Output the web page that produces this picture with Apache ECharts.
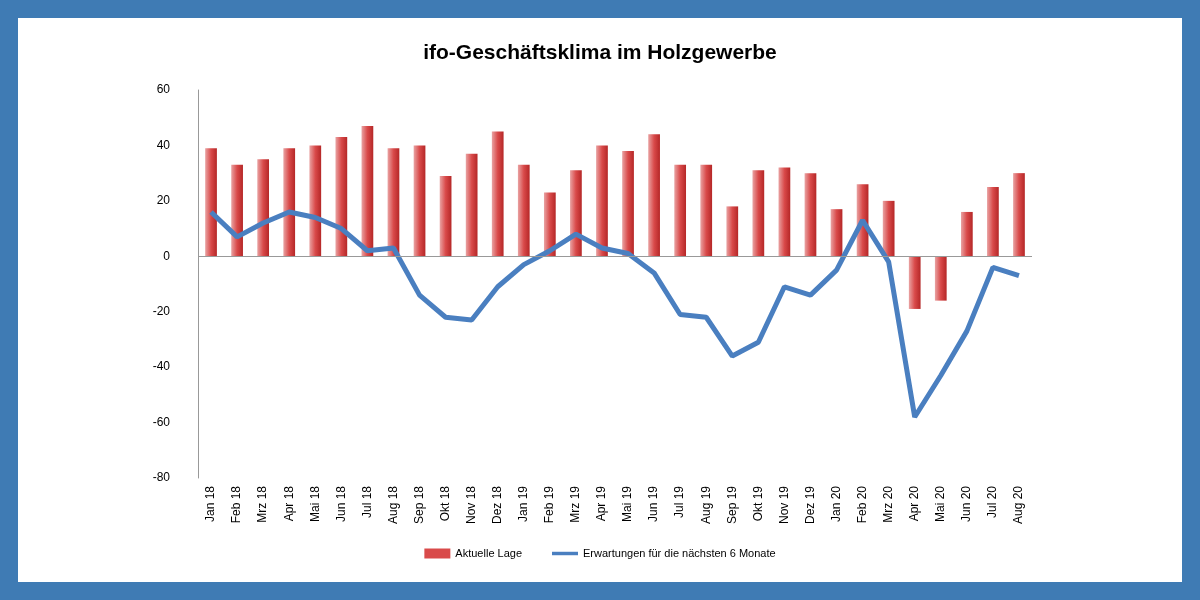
<!DOCTYPE html>
<html><head><meta charset="utf-8">
<script src="https://cdn.jsdelivr.net/npm/echarts@6/dist/echarts.min.js"></script>
<style>
html,body{margin:0;padding:0;width:1200px;height:600px;background:#3f7bb4;overflow:hidden}
#chart{position:absolute;left:18px;top:18px;width:1164px;height:564px;background:#fff}
</style></head><body>
<div id="chart"></div>
<script>
// data
var months = ["Jan 18","Feb 18","Mrz 18","Apr 18","Mai 18","Jun 18","Jul 18","Aug 18","Sep 18","Okt 18","Nov 18","Dez 18",
  "Jan 19","Feb 19","Mrz 19","Apr 19","Mai 19","Jun 19","Jul 19","Aug 19","Sep 19","Okt 19","Nov 19","Dez 19",
  "Jan 20","Feb 20","Mrz 20","Apr 20","Mai 20","Jun 20","Jul 20","Aug 20"];
var lage = [39,33,35,39,40,43,47,39,40,29,37,45,33,23,31,40,38,44,33,33,18,31,32,30,17,26,20,-19,-16,16,25,30];
var erwartungen = [16,7,12,16,14,10,2,3,-14,-22,-23,-11,-3,2,8,3,1,-6,-21,-22,-36,-31,-11,-14,-5,13,-2,-58,-43,-27,-4,-7];

var barColor = new echarts.graphic.LinearGradient(0,0,1,0,[
  {offset:0,color:'#e9a3a3'},{offset:0.5,color:'#d94a4a'},{offset:1,color:'#b52727'}]);

var option = {
  animation:false,
  title:{text:"ifo-Geschäftsklima im Holzgewerbe",left:'center',top:20,
    textStyle:{fontFamily:'Liberation Sans',fontSize:21,fontWeight:'bold',color:'#000'}},
  grid:{left:180,right:150,top:72,bottom:104,outerBoundsMode:'none',containLabel:false},
  legend:{bottom:18,left:'center',itemGap:30,itemWidth:26,itemHeight:10,
    textStyle:{fontFamily:'Liberation Sans',fontSize:11,color:'#000'},
    data:[{name:'Aktuelle Lage',icon:'rect',itemStyle:{color:'#d94a4a'}},
      {name:'Erwartungen für die nächsten 6 Monate',icon:'path://M0,0H30V4H0Z',itemStyle:{color:'#4a7fc0'}}]},
  xAxis:{type:'category',data:months,
    axisLine:{show:false,onZero:false},axisTick:{show:false},
    axisLabel:{rotate:90,interval:0,fontFamily:'Liberation Sans',fontSize:12,color:'#000',margin:8}},
  yAxis:{type:'value',min:-80,max:60,interval:20,
    axisLine:{show:true,lineStyle:{color:'#999'}},axisTick:{show:false},splitLine:{show:false},
    axisLabel:{fontFamily:'Liberation Sans',fontSize:12,color:'#000',margin:28}},
  series:[
    {name:'Aktuelle Lage',type:'bar',data:lage,barWidth:'45%',itemStyle:{color:barColor},
      markLine:{silent:true,symbol:'none',label:{show:false},lineStyle:{color:'#999',type:'solid',width:1},
        data:[{yAxis:0}]}},
    {name:'Erwartungen für die nächsten 6 Monate',type:'line',data:erwartungen,symbol:'none',
      lineStyle:{color:'#4a7fc0',width:5},itemStyle:{color:'#4a7fc0'}}
  ]
};
var myChart = echarts.init(document.getElementById('chart'));
myChart.setOption(option);
</script></body></html>
